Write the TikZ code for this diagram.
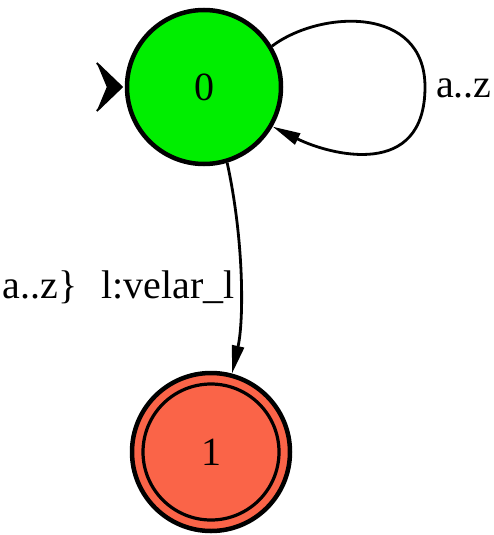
\documentclass[tikz,border=0pt]{standalone}
\usepackage{fontspec}
\setmainfont{Liberation Serif}
\usetikzlibrary{arrows.meta}
\definecolor{stgreen}{RGB}{0,238,0}
\definecolor{sttomato}{RGB}{250,100,72}
\tikzset{
  state/.style={circle, draw=black, line width=4.5pt, inner sep=0pt, font=\fontsize{40}{44}\selectfont},
  edge/.style={line width=2.8pt, -{Triangle[length=28pt,width=12pt]}},
  lbl/.style={font=\fontsize{40}{44}\selectfont, inner sep=0pt},
}
\begin{document}
\begin{tikzpicture}[x=1pt,y=1pt]
\useasboundingbox (0,0) rectangle (494,-535);
\node[state, fill=stgreen, minimum size=154pt] (q0) at (204,-87) {0};
\node[state, fill=sttomato, minimum size=158pt] (q1) at (211,-452) {1};
\draw[line width=3.2pt] (q1.center) circle[radius=68pt];
\coordinate (start) at ([xshift=-3pt]q0.west);
\fill[line join=miter] (start) -- ++(-25,24) -- ++(10,-24) -- ++(-10,-24) -- cycle;
\draw[line width=2pt] (start) ++(-25,24) -- (start) -- ++(-25,-24);
\draw[edge] (q0.31) .. controls (320,-10) and (425,-5) .. (425,-87)
   .. controls (425,-180) and (330,-155) .. (q0.-30);
\node[lbl, anchor=base west] (l0) at (436,-97) {a..z};
\draw[edge] (q0.-73) .. controls (244,-240) and (244,-320) .. (q1.75);
\node[lbl, anchor=base east] (l1) at (235,-298) {\{a..z\}\hspace{24pt}l:velar\_l};
\end{tikzpicture}
\end{document}
